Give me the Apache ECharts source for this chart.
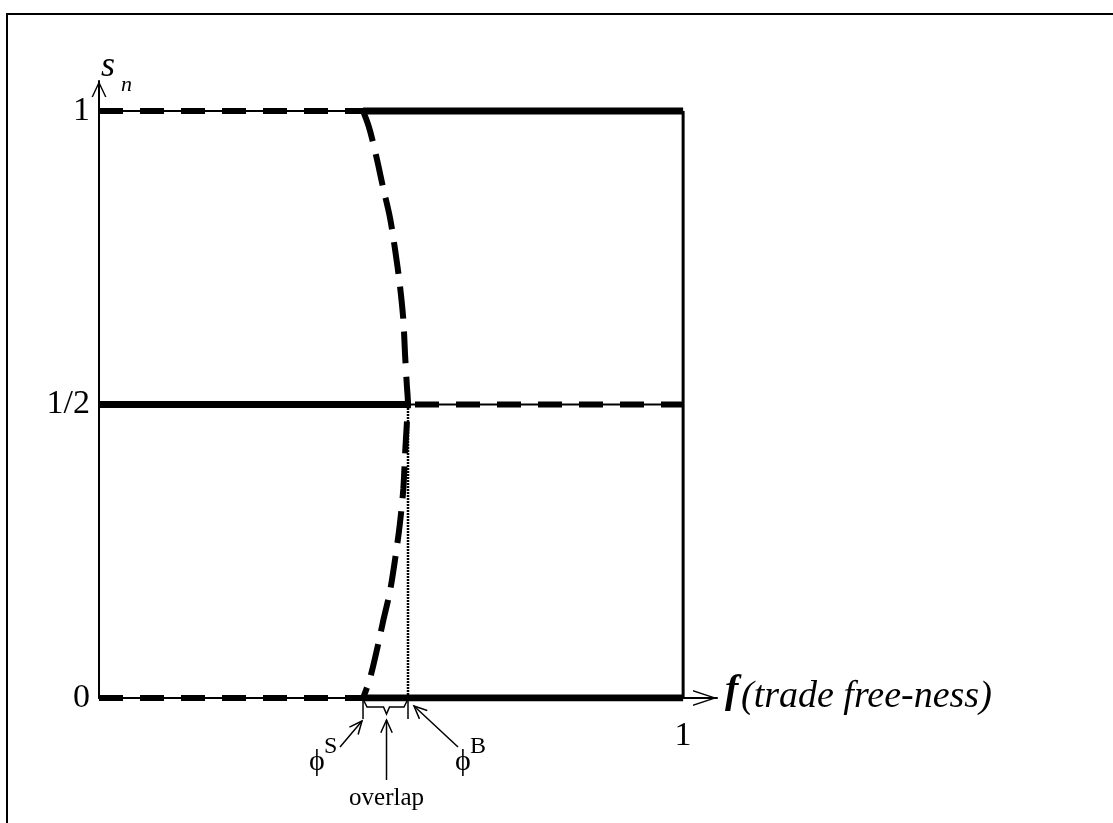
<!DOCTYPE html>
<html>
<head>
<meta charset="UTF-8">
<title>Tomahawk diagram</title>
<script src="https://cdn.jsdelivr.net/npm/echarts@6/dist/echarts.min.js"></script>
<style>
  html, body { margin: 0; padding: 0; background: #fff; }
  #chart { width: 1113px; height: 823px; }
</style>
</head>
<body>
<div id="chart"></div>
<script>
// sustain and break points on the trade free-ness axis
const phiS = 0.452;
const phiB = 0.529;

// interior (unstable) equilibrium, top to bottom
const curveX = [0.452, 0.461, 0.468, 0.478, 0.486, 0.498, 0.507, 0.515, 0.521, 0.524, 0.527, 0.529,
                0.527, 0.524, 0.521, 0.515, 0.507, 0.498, 0.486, 0.478, 0.468, 0.461, 0.452];
const curveY = [1, 0.976, 0.951, 0.908, 0.871, 0.819, 0.763, 0.704, 0.644, 0.584, 0.533, 0.5,
                0.467, 0.416, 0.356, 0.296, 0.237, 0.181, 0.129, 0.092, 0.049, 0.024, 0];

// tick labels
const yTicks = [0, 0.5, 1];
const yTickLabels = ['0', '1/2', '1'];
const xTicks = [1];
const xTickLabels = ['1'];

const serif = 'Liberation Serif';
const chart = echarts.init(document.getElementById('chart'));

function tickText(ticks, labels) {
    return function (v) {
        for (let i = 0; i < ticks.length; i++) {
            if (Math.abs(v - ticks[i]) < 1e-6) return labels[i];
        }
        return '';
    };
}

function seg(points, width, type, z, offset) {
    return {
        type: 'line',
        data: points,
        symbol: 'none',
        silent: true,
        z: z,
        lineStyle: { color: '#000', width: width, type: type || 'solid', dashOffset: offset || 0, cap: 'butt' }
    };
}

const curveData = curveX.map((x, i) => [x, curveY[i]]);

const option = {
    animation: false,
    grid: { left: 99, right: 396, top: 81, bottom: 125 },
    xAxis: {
        type: 'value', min: 0, max: 1.058, interval: 0.5,
        splitLine: { show: false },
        axisTick: { show: false },
        axisLine: {
            lineStyle: { color: '#000', width: 2 },
            symbol: ['none', 'path://M8,0 L16,24 L14.6,24 L8,4.2 L1.4,24 L0,24 Z'],
            symbolSize: [16, 24],
            symbolOffset: [0, -12]
        },
        axisLabel: {
            formatter: tickText(xTicks, xTickLabels),
            fontFamily: serif, fontSize: 34, color: '#000', margin: 21
        }
    },
    yAxis: {
        type: 'value', min: 0, max: 1.051, interval: 0.5,
        splitLine: { show: false },
        axisTick: { show: false },
        axisLine: {
            lineStyle: { color: '#000', width: 2 },
            symbol: ['none', 'path://M7.5,0 L15,16 L13.5,16 L7.5,3.2 L1.5,16 L0,16 Z'],
            symbolSize: [15, 16],
            symbolOffset: [0, -8]
        },
        axisLabel: {
            formatter: tickText(yTicks, yTickLabels),
            fontFamily: serif, fontSize: 34, color: '#000', margin: 9
        }
    },
    series: [
        // s = 1
        seg([[0, 1], [1, 1]], 2, 'solid', 2),
        seg([[0, 1], [phiS, 1]], 6, [24, 17], 3),
        seg([[phiS, 1], [1, 1]], 7, 'solid', 3),
        // s = 1/2
        seg([[0, 0.5], [phiB, 0.5]], 7, 'solid', 3),
        seg([[phiB, 0.5], [1, 0.5]], 2, 'solid', 2),
        seg([[phiB, 0.5], [1, 0.5]], 6, [24, 17], 3, 34),
        // s = 0
        seg([[0, 0], [phiS, 0]], 6, [24, 17], 3),
        seg([[phiS, 0], [1, 0]], 7, 'solid', 3),
        // phi = 1
        seg([[1, 0], [1, 1]], 3, 'solid', 2),
        // dotted line down from the break point
        seg([[phiB, 0], [phiB, 0.5]], 2.5, [2, 1], 2),
        // the bending interior curve
        Object.assign(seg(curveData, 6, [32, 13], 4), { smooth: 0.3 })
    ]
};

chart.setOption(option);

function arrow(x1, y1, x2, y2) {
    const a = Math.atan2(y2 - y1, x2 - x1);
    const len = 14, spread = 0.42;
    return [
        { type: 'line', silent: true, shape: { x1: x1, y1: y1, x2: x2, y2: y2 }, style: { stroke: '#000', lineWidth: 1.5 } },
        { type: 'polyline', silent: true, shape: { points: [
            [x2 - len * Math.cos(a - spread), y2 - len * Math.sin(a - spread)],
            [x2, y2],
            [x2 - len * Math.cos(a + spread), y2 - len * Math.sin(a + spread)]
        ] }, style: { stroke: '#000', lineWidth: 1.5, fill: null } }
    ];
}

const pS = chart.convertToPixel({ gridIndex: 0 }, [phiS, 0]);
const pB = chart.convertToPixel({ gridIndex: 0 }, [phiB, 0]);
const pEnd = chart.convertToPixel({ gridIndex: 0 }, [1.058, 0]);
const pTop = chart.convertToPixel({ gridIndex: 0 }, [0, 1.051]);
const xs = pS[0], xb = pB[0], y0 = pS[1];
const mid = (xs + xb) / 2 + 1;

const graphics = [
    // outer frame
    { type: 'rect', silent: true, shape: { x: 7, y: 14, width: 1200, height: 900 }, style: { fill: null, stroke: '#000', lineWidth: 2 } },
    // title, mostly cut off above the picture
    { type: 'text', silent: true, x: 16, y: -12, style: { text: 'Figure 2: The Tomahawk Diagram', font: 'bold 25px "Liberation Serif"', fill: '#000', verticalAlign: 'middle' } },
    // axis names
    { type: 'text', silent: true, x: pTop[0] + 2, y: pTop[1] - 14, style: { text: 's', font: 'italic 36px "Liberation Serif"', fill: '#000', verticalAlign: 'middle' } },
    { type: 'text', silent: true, x: pTop[0] + 22, y: pTop[1] + 4, style: { text: 'n', font: 'italic 22px "Liberation Serif"', fill: '#000', verticalAlign: 'middle' } },
    { type: 'text', silent: true, x: pEnd[0] + 8, y: y0 - 6, style: { text: 'f', font: 'italic bold 40px "Liberation Serif"', fill: '#000', verticalAlign: 'middle' } },
    { type: 'text', silent: true, x: pEnd[0] + 24, y: y0 - 1, style: { text: '(trade free-ness)', font: 'italic 38px "Liberation Serif"', fill: '#000', verticalAlign: 'middle' } },
    // overlap brace and the two end ticks
    { type: 'line', silent: true, shape: { x1: xs, y1: y0 + 1, x2: xs, y2: y0 + 21 }, style: { stroke: '#000', lineWidth: 1.5 } },
    { type: 'line', silent: true, shape: { x1: xb, y1: y0 + 1, x2: xb, y2: y0 + 21 }, style: { stroke: '#000', lineWidth: 1.5 } },
    { type: 'polyline', silent: true, shape: { points: [
        [xs + 1, y0 + 3], [xs + 4, y0 + 9], [mid - 3, y0 + 9], [mid, y0 + 16], [mid + 3, y0 + 9], [xb - 4, y0 + 9], [xb - 1, y0 + 3]
    ] }, style: { stroke: '#000', lineWidth: 1.5, fill: null } },
    // labels under the axis
    { type: 'text', silent: true, x: xs - 54, y: y0 + 64, style: { text: '\u03D5', font: '30px "Liberation Serif"', fill: '#000', verticalAlign: 'middle' } },
    { type: 'text', silent: true, x: xs - 39, y: y0 + 49, style: { text: 'S', font: '24px "Liberation Serif"', fill: '#000', verticalAlign: 'middle' } },
    { type: 'text', silent: true, x: xb + 47, y: y0 + 64, style: { text: '\u03D5', font: '30px "Liberation Serif"', fill: '#000', verticalAlign: 'middle' } },
    { type: 'text', silent: true, x: xb + 62, y: y0 + 49, style: { text: 'B', font: '24px "Liberation Serif"', fill: '#000', verticalAlign: 'middle' } },
    { type: 'text', silent: true, x: mid, y: y0 + 100, style: { text: 'overlap', font: '25px "Liberation Serif"', fill: '#000', align: 'center', verticalAlign: 'middle' } }
]
    .concat(arrow(xs - 23, y0 + 49, xs - 1, y0 + 23))
    .concat(arrow(mid, y0 + 82, mid, y0 + 22))
    .concat(arrow(xb + 50, y0 + 49, xb + 6, y0 + 8));

chart.setOption({ graphic: graphics });

window.addEventListener('resize', function () {
    chart.resize();
});
</script>
</body>
</html>
